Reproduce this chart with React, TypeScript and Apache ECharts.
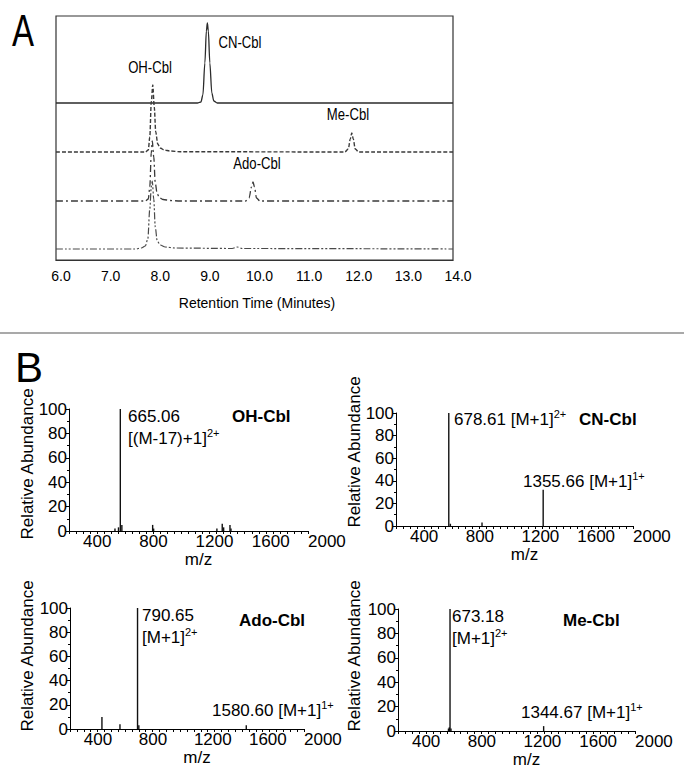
import React, { useEffect, useRef } from 'react';
import * as echarts from 'echarts';

// ---------- Panel A: HPLC chromatograms (signal in arbitrary units) ----------
const rtMin = 6;
const rtMax = 14;

const cnTime = [6.0, 8.85, 8.92, 8.96, 9.0, 9.03, 9.05, 9.07, 9.1, 9.14, 9.18, 9.25, 14.0];
const cnSignal = [0, 0, 1, 8, 40, 72, 80, 72, 40, 10, 2, 0, 0];

const meTime = [6.0, 7.8, 7.86, 7.89, 7.92, 7.95, 7.98, 8.01, 8.05, 8.1, 8.18, 8.3, 8.5, 11.82, 11.89, 11.93, 11.96, 11.99, 12.03, 12.1, 14.0];
const meSignal = [0, 0, 2, 15, 50, 67, 45, 20, 8, 4, 2, 1, 0.3, 0, 3, 13, 19, 13, 3, 0, 0];

const adoTime = [6.0, 7.8, 7.86, 7.89, 7.92, 7.94, 7.97, 8.0, 8.04, 8.09, 8.16, 8.3, 8.5, 9.82, 9.89, 9.94, 9.97, 10.0, 10.04, 10.11, 14.0];
const adoSignal = [0, 0, 2, 14, 48, 60, 44, 18, 7, 3, 1.5, 0.5, 0, 0, 3, 14, 19, 14, 3, 0, 0];

const ohTime = [6.0, 7.6, 7.72, 7.8, 7.85, 7.89, 7.92, 7.94, 7.97, 8.0, 8.04, 8.1, 8.2, 8.4, 9.55, 9.65, 9.75, 14.0];
const ohSignal = [0, 0, 1, 3, 10, 40, 62, 68, 50, 22, 8, 4, 2, 1, 0.5, 2, 0.5, 0];

const traceOffsets = [157, 108, 59, 11];
const peakLabels = ['OH-Cbl', 'CN-Cbl', 'Me-Cbl', 'Ado-Cbl'];

// ---------- Panel B: mass spectra ----------
const mzTicks = [400, 800, 1200, 1600, 2000];

const ohMz = [627, 652, 665.06, 676, 895, 902, 1352, 1390, 1400, 1445, 1452];
const ohAbund = [2, 3, 100, 5, 5, 2, 2, 6, 3, 5, 2];

const cnMz = [690, 678.61, 917, 1355.66];
const cnAbund = [2, 100, 3, 32];

const adoMz = [532, 663, 790.65, 800, 1580.6];
const adoAbund = [10, 4, 100, 3, 3];

const meMz = [662, 668, 673.18, 680, 1344.67];
const meAbund = [2, 3, 100, 2, 4];

const specTitles = ['OH-Cbl', 'CN-Cbl', 'Ado-Cbl', 'Me-Cbl'];

const SANS = '"Liberation Sans", Arial, Helvetica, sans-serif';

const richStyles = {
  n: { fontSize: 17, fontFamily: SANS, lineHeight: 22, fill: '#000', color: '#000' },
  s: { fontSize: 11, fontFamily: SANS, lineHeight: 10, verticalAlign: 'top', fill: '#000', color: '#000' },
};

function txt(x: number, y: number, text: string, o: any = {}) {
  const align = o.align || 'left';
  const va = o.va || 'middle';
  return {
    type: 'text',
    x,
    y,
    rotation: o.rotation || 0,
    scaleX: o.scaleX || 1,
    silent: true,
    z: 100,
    style: {
      text,
      fill: '#000',
      fontSize: o.fontSize || 17,
      fontFamily: o.fontFamily || SANS,
      fontWeight: o.fontWeight || 'normal',
      align,
      textAlign: align,
      verticalAlign: va,
      textVerticalAlign: va,
      rich: o.rich,
    },
  };
}

const App: React.FC = () => {
  const ref = useRef<HTMLDivElement>(null);

  useEffect(() => {
    if (!ref.current) return;
    const chart = echarts.init(ref.current, undefined, { renderer: 'svg' });

    const toTrace = (t: number[], s: number[], off: number) => t.map((x, i) => [x, s[i] + off]);
    const toSticks = (mz: number[], ab: number[]) => mz.map((m, i) => [m, ab[i]]);

    const grids = [
      { left: 56, top: 16, width: 397, height: 244 },
      { left: 69, top: 409, width: 239, height: 122 },
      { left: 396, top: 413, width: 237, height: 113 },
      { left: 70, top: 608, width: 234, height: 121 },
      { left: 398, top: 609, width: 237, height: 122 },
    ];

    const specXAxis = (gi: number) => ({
      type: 'value',
      gridIndex: gi,
      min: 300,
      max: 2000,
      interval: 100,
      axisLine: { show: true, lineStyle: { color: '#000', width: 1 } },
      axisTick: { show: true, length: 3, lineStyle: { color: '#000' } },
      minorTick: { show: true, splitNumber: 2, length: 3, lineStyle: { color: '#000' } },
      splitLine: { show: false },
      axisLabel: {
        formatter: (v: number) => (mzTicks.indexOf(v) >= 0 ? String(v) : ''),
        align: 'left',
        margin: 2,
        fontSize: 17,
        fontFamily: SANS,
        color: '#000',
      },
      name: 'm/z',
      nameLocation: 'middle',
      nameGap: 18,
      nameTextStyle: { fontSize: 17, fontFamily: SANS, color: '#000', padding: [0, 0, 0, 20] },
    });

    const specYAxis = (gi: number) => ({
      type: 'value',
      gridIndex: gi,
      min: 0,
      max: 100,
      interval: 20,
      axisLine: { show: true, lineStyle: { color: '#000', width: 1 } },
      axisTick: { show: true, length: 3, lineStyle: { color: '#000' } },
      minorTick: { show: true, splitNumber: 2, length: 2, lineStyle: { color: '#000' } },
      splitLine: { show: false },
      axisLabel: { margin: 2, fontSize: 17, fontFamily: SANS, color: '#000' },
    });

    const lineSeries = (name: string, data: number[][], type: any, color: string, width: number) => ({
      type: 'line',
      name,
      xAxisIndex: 0,
      yAxisIndex: 0,
      data,
      showSymbol: false,
      symbol: 'none',
      smooth: 0.3,
      smoothMonotone: 'x',
      lineStyle: { color, width, type },
      silent: true,
    });

    const stickSeries = (name: string, gi: number, data: number[][]) => ({
      type: 'bar',
      name,
      xAxisIndex: gi,
      yAxisIndex: gi,
      data,
      barWidth: 1.4,
      itemStyle: { color: '#111' },
      silent: true,
    });

    const graphic: any[] = [
      txt(23, 31, 'A', { fontSize: 44, align: 'center', scaleX: 0.75 }),
      txt(29, 367, 'B', { fontSize: 42, align: 'center' }),
      {
        type: 'line',
        silent: true,
        shape: { x1: 0, y1: 333, x2: 684, y2: 333 },
        style: { stroke: '#8c8c8c', lineWidth: 1.5 },
      },
      // Panel A peak labels
      txt(150, 68, peakLabels[0], { fontSize: 16, align: 'center', scaleX: 0.82 }),
      txt(240, 43, peakLabels[1], { fontSize: 16, align: 'center', scaleX: 0.82 }),
      txt(348, 115, peakLabels[2], { fontSize: 16, align: 'center', scaleX: 0.82 }),
      txt(257, 164, peakLabels[3], { fontSize: 16, align: 'center', scaleX: 0.82 }),
      // Relative Abundance
      txt(27, 464, 'Relative Abundance', { rotation: Math.PI / 2, align: 'center' }),
      txt(354, 452, 'Relative Abundance', { rotation: Math.PI / 2, align: 'center' }),
      txt(27, 656, 'Relative Abundance', { rotation: Math.PI / 2, align: 'center' }),
      txt(354, 656, 'Relative Abundance', { rotation: Math.PI / 2, align: 'center' }),
      // spectrum titles
      txt(232, 416, specTitles[0], { fontWeight: 'bold' }),
      txt(579, 419, specTitles[1], { fontWeight: 'bold' }),
      txt(239, 620, specTitles[2], { fontWeight: 'bold' }),
      txt(563, 620, specTitles[3], { fontWeight: 'bold' }),
      // ion annotations
      txt(128, 405, '{n|665.06}\n{n|[(M-17)+1]}{s|2+}', { va: 'top', rich: richStyles }),
      txt(454, 419, '{n|678.61 [M+1]}{s|2+}', { rich: richStyles }),
      txt(523, 481, '{n|1355.66 [M+1]}{s|1+}', { rich: richStyles }),
      txt(142, 604, '{n|790.65}\n{n|[M+1]}{s|2+}', { va: 'top', rich: richStyles }),
      txt(212, 710, '{n|1580.60 [M+1]}{s|1+}', { rich: richStyles }),
      txt(452, 605, '{n|673.18}\n{n|[M+1]}{s|2+}', { va: 'top', rich: richStyles }),
      txt(521, 712, '{n|1344.67 [M+1]}{s|1+}', { rich: richStyles }),
    ];

    const option: any = {
      animation: false,
      backgroundColor: '#fff',
      grid: grids.map((g, i) =>
        i === 0
          ? { ...g, show: true, borderColor: '#333', borderWidth: 1.2, backgroundColor: 'transparent' }
          : { ...g }
      ),
      xAxis: [
        {
          type: 'value',
          gridIndex: 0,
          min: rtMin,
          max: rtMax,
          interval: 1,
          axisLine: { show: true, lineStyle: { color: '#333', width: 1.2 } },
          axisTick: { show: false },
          splitLine: { show: false },
          axisLabel: {
            formatter: (v: number) => v.toFixed(1),
            margin: 9,
            fontSize: 14,
            fontFamily: SANS,
            color: '#000',
            padding: [0, 0, 0, 10],
          },
          name: 'Retention Time (Minutes)',
          nameLocation: 'middle',
          nameGap: 36,
          nameTextStyle: { fontSize: 14, fontFamily: SANS, color: '#000', padding: [0, 0, 0, 5] },
        },
        specXAxis(1),
        specXAxis(2),
        specXAxis(3),
        specXAxis(4),
      ],
      yAxis: [
        {
          type: 'value',
          gridIndex: 0,
          min: 0,
          max: 244,
          axisLine: { show: false },
          axisTick: { show: false },
          axisLabel: { show: false },
          splitLine: { show: false },
        },
        specYAxis(1),
        specYAxis(2),
        specYAxis(3),
        specYAxis(4),
      ],
      series: [
        lineSeries('CN-Cbl', toTrace(cnTime, cnSignal, traceOffsets[0]), 'solid', '#2b2b2b', 1.3),
        lineSeries('Me-Cbl', toTrace(meTime, meSignal, traceOffsets[1]), [4, 2], '#3a3a3a', 1.4),
        lineSeries('Ado-Cbl', toTrace(adoTime, adoSignal, traceOffsets[2]), [7, 3, 2, 3], '#3a3a3a', 1.3),
        lineSeries('OH-Cbl', toTrace(ohTime, ohSignal, traceOffsets[3]), [7, 2, 2, 2, 2, 2], '#4a4a4a', 1.2),
        stickSeries('OH-Cbl MS', 1, toSticks(ohMz, ohAbund)),
        stickSeries('CN-Cbl MS', 2, toSticks(cnMz, cnAbund)),
        stickSeries('Ado-Cbl MS', 3, toSticks(adoMz, adoAbund)),
        stickSeries('Me-Cbl MS', 4, toSticks(meMz, meAbund)),
      ],
      graphic,
    };

    chart.setOption(option);
    return () => {
      chart.dispose();
    };
  }, []);

  return (
    <div
      ref={ref}
      style={{ position: 'absolute', left: 0, top: 0, width: 684, height: 779, background: '#fff' }}
    />
  );
};

export default App;
